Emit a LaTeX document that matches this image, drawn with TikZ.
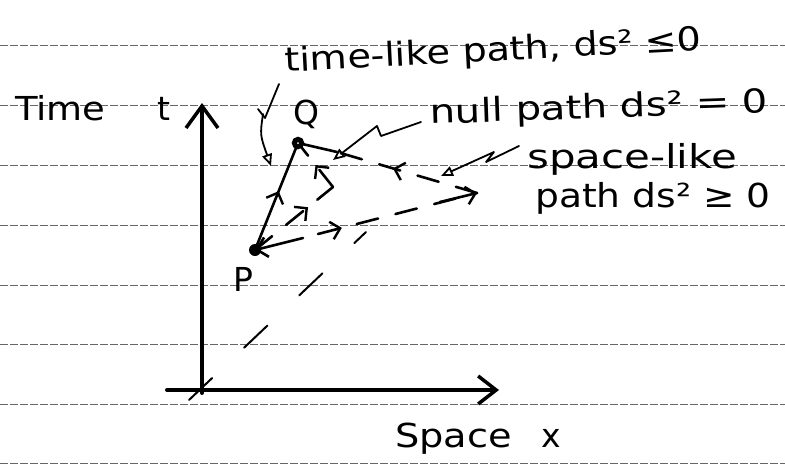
\documentclass[tikz,border=0pt]{standalone}
\usepackage{fontspec}
\setmainfont{DejaVu Sans}
\usetikzlibrary{arrows.meta,decorations.markings}
\newcommand{\hs}[2]{\scalebox{#1}[1]{#2}}
\begin{document}
\begin{tikzpicture}[x=1pt,y=-1pt,
  rule/.style={black!60,line width=1pt,dash pattern=on 8pt off 2pt},
  axis/.style={line width=4pt,line cap=round},
  pen/.style={line width=2.6pt,line cap=round,line join=round},
  thinpen/.style={line width=1.8pt,line cap=round,line join=round},
  dashpen/.style={line width=2.6pt,line cap=round,dash pattern=on 22pt off 18pt},
  cone/.style={line width=2pt,line cap=round,dash pattern=on 32pt off 44pt},
  barb/.style={-{Straight Barb[length=10pt,width=20pt,line width=2.6pt]}},
  midarr/.style={postaction={decorate},decoration={markings,
      mark=at position #1 with {\arrow{Straight Barb[length=9pt,width=18pt,line width=2.4pt]}}}},
  hand/.style={font=\fontsize{33}{35}\selectfont,inner sep=0pt},
  opentip/.style={-{Triangle[open,length=12pt,width=10pt,line width=1.8pt]}}
]
\useasboundingbox (0,0) rectangle (785,467);
\fill[white] (0,0) rectangle (785,467);
% ruled lines
\foreach \y in {45,105,165,225,285,344,404,463}
  \draw[rule] (0,\y) -- (785,\y);

% axes
\coordinate (O) at (202,390);
\coordinate (Ttop) at (202,103);
\coordinate (Xstart) at (167,390);
\coordinate (Xend) at (499,390);
\draw[axis,-{Straight Barb[length=22pt,width=32pt,line width=3.5pt]}] (202,393) -- (Ttop);
\draw[axis,-{Straight Barb[length=18pt,width=28pt,line width=3.5pt]}] (Xstart) -- (Xend);

% light cone line through origin
\coordinate (C0) at (189,400);
\coordinate (C1) at (366,232);
\draw[cone] (C0) -- (C1);

% events
\coordinate (P) at (255,250);
\coordinate (Q) at (298,143);
\coordinate (N) at (333,187);
\coordinate (S) at (477,193);
\coordinate (Sa) at (303,238);
\coordinate (Sb) at (318,234);
\coordinate (Qa) at (337,152);

% time-like path
\draw[pen,midarr=0.55] (P) -- (Q);
% null path
\draw[dashpen,midarr=0.68] (P) -- (N);
\draw[dashpen,midarr=0.5] (N) -- (Q);
% space-like path
\draw[pen,barb] (Sa) -- (P);
\draw[dashpen,midarr=0.15] (Sb) -- (S);
\draw[pen,-{Straight Barb[length=9pt,width=18pt,line width=2.4pt]}] (440,202) -- (S);
\draw[dashpen,midarr=0.6] (S) -- (Qa);
\draw[pen] (Qa) -- (Q);

\fill (P) circle[radius=6pt];
\draw[line width=2.5pt,fill=black] (Q) circle[radius=5pt];
\fill[white] (Q) circle[radius=1pt];

% labels
\node[hand,anchor=base] (Plab) at (243,291) {P};
\node[hand,anchor=base] (Qlab) at (306,124) {Q};
\node[hand,anchor=base west] (time) at (15,120) {\hs{1.12}{Time}};
\node[hand,anchor=base west] (tlab) at (157,120) {t};
\node[hand,anchor=base west] (space) at (395,447) {\hs{1.16}{Space}};
\node[hand,anchor=base west] (xlab) at (541,447) {x};
\node[hand,anchor=base west,rotate=3] (tl) at (285,72) {\hs{1.16}{time-like path, ds² ≤0}};
\node[hand,anchor=base west,rotate=2] (nl) at (430,124) {\hs{1.22}{null path ds² = 0}};
\node[hand,anchor=base west] (sl1) at (527,168) {\hs{1.27}{space-like}};
\node[hand,anchor=base west] (sl2) at (535,207) {\hs{1.14}{path ds² ≥ 0}};

% pointer arrows
\coordinate (a1) at (279,84);
\coordinate (a1b) at (265,118);
\coordinate (a1c) at (258,109);
\coordinate (a1d) at (263,114);
\coordinate (a1e) at (271,166);
\draw[thinpen] (a1) -- (a1b) -- (a1c);
\draw[thinpen,opentip] (a1d) .. controls (260,135) .. (a1e);

\coordinate (b1) at (421,122);
\coordinate (b2) at (381,136);
\coordinate (b3) at (377,126);
\coordinate (b4) at (333,160);
\draw[thinpen,opentip] (b1) -- (b2) -- (b3) -- (b4);

\coordinate (c1) at (519,146);
\coordinate (c2) at (486,162);
\coordinate (c3) at (494,152);
\coordinate (c4) at (441,176);
\draw[thinpen,opentip] (c1) -- (c2) -- (c3) -- (c4);
\end{tikzpicture}
\end{document}
